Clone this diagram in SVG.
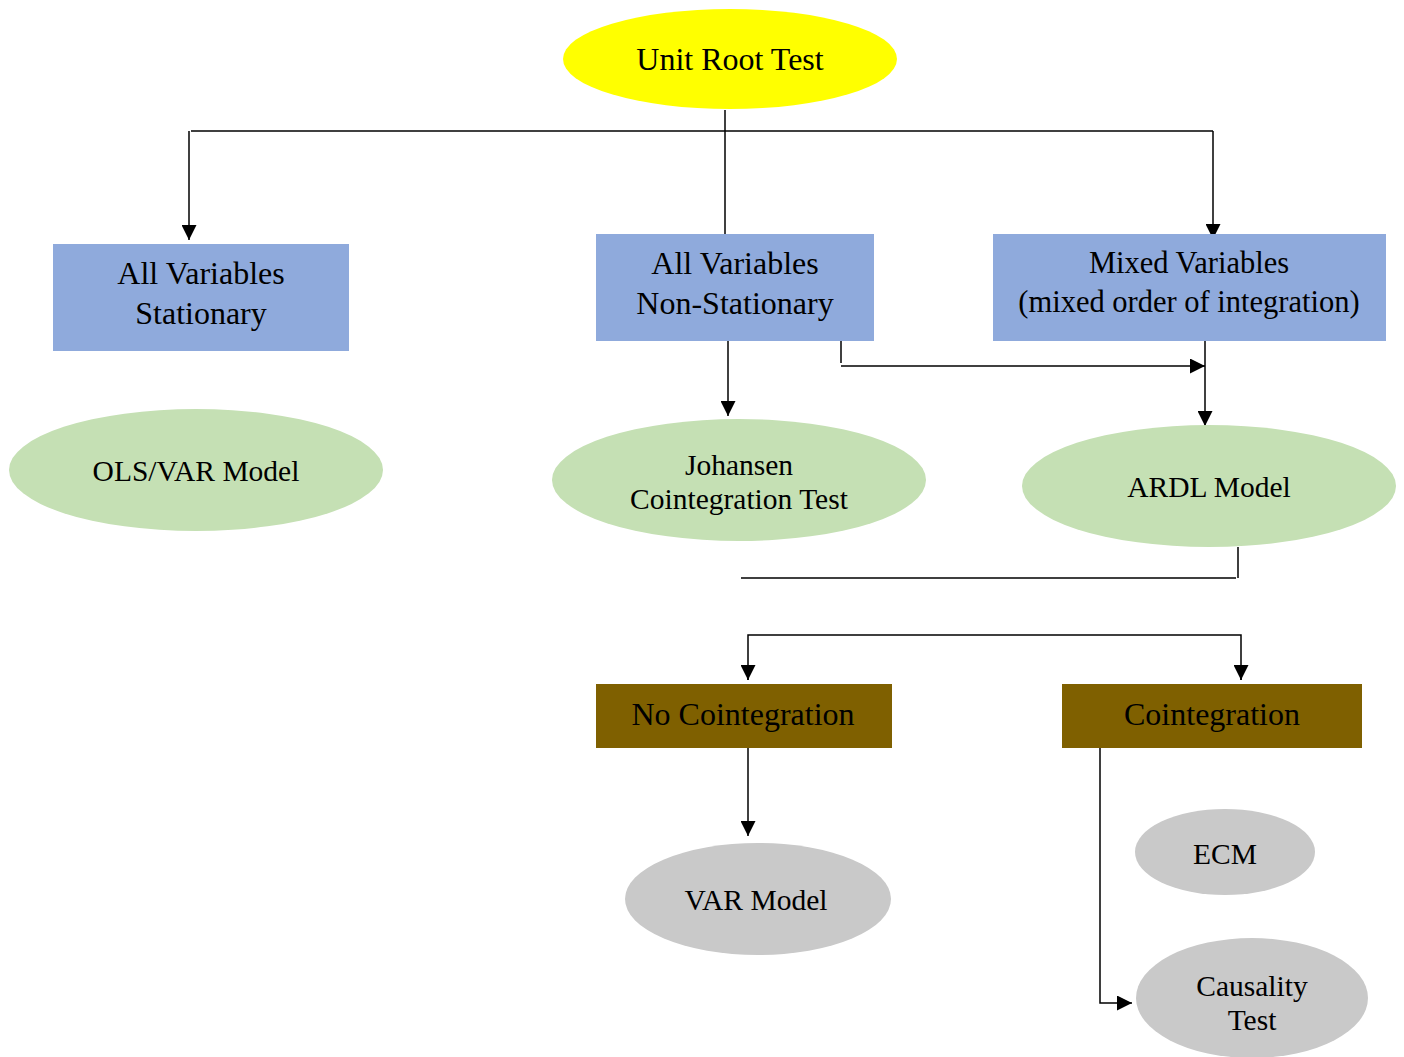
<svg xmlns="http://www.w3.org/2000/svg" width="1404" height="1057" viewBox="0 0 1404 1057">
<defs>
<marker id="ah" viewBox="0 0 10 10" refX="10" refY="5" markerWidth="15" markerHeight="15" markerUnits="userSpaceOnUse" orient="auto">
<path d="M0,0 L10,5 L0,10 z" fill="#000"/>
</marker>
<style>
text{font-family:"Liberation Serif","Times New Roman",serif;fill:#000;text-anchor:middle}
.blue{fill:#8FAADC}
.green{fill:#C5E0B4}
.brown{fill:#7F6000}
.grey{fill:#C9C9C9}
.c{fill:none;stroke:#000;stroke-width:1.5}
.bx{font-size:32px}
.el{font-size:29.5px}
</style>
</defs>
<rect width="1404" height="1057" fill="#fff"/>
<g id="connectors">
<path class="c" d="M725,110 V234"/>
<path class="c" d="M191,131 H1213"/>
<path class="c" d="M189,131 V240" marker-end="url(#ah)"/>
<path class="c" d="M1213,131 V239" marker-end="url(#ah)"/>
<path class="c" d="M728,341 V416" marker-end="url(#ah)"/>
<path class="c" d="M841,341 V363"/>
<path class="c" d="M841,366 H1205" marker-end="url(#ah)"/>
<path class="c" d="M1205,341 V426" marker-end="url(#ah)"/>
<path class="c" d="M1238,547 V578 M1236,578 H741"/>
<path class="c" d="M748,680 V635 H1241 V680"/>
<path class="c" d="M748,665 V680" marker-end="url(#ah)"/>
<path class="c" d="M1241,665 V680" marker-end="url(#ah)"/>
<path class="c" d="M748,748 V836" marker-end="url(#ah)"/>
<path class="c" d="M1100,748 V1003 H1132" marker-end="url(#ah)"/>
</g>
<g id="unit-root">
<ellipse cx="730" cy="59" rx="167" ry="50" fill="#FFFF00"/>
<text class="bx" x="730" y="70">Unit Root Test</text>
</g>
<g id="stationary">
<rect class="blue" x="53" y="244" width="296" height="107"/>
<text class="bx" x="201" y="284">All Variables</text>
<text class="bx" x="201" y="324">Stationary</text>
</g>
<g id="non-stationary">
<rect class="blue" x="596" y="234" width="278" height="107"/>
<text class="bx" x="735" y="274">All Variables</text>
<text class="bx" x="735" y="314">Non-Stationary</text>
</g>
<g id="mixed">
<rect class="blue" x="993" y="234" width="393" height="107"/>
<text x="1189" y="273" font-size="30.5">Mixed Variables</text>
<text x="1189" y="312" font-size="30.5">(mixed order of integration)</text>
</g>
<g id="ols-var">
<ellipse class="green" cx="196" cy="470" rx="187" ry="61"/>
<text class="el" x="196" y="481">OLS/VAR Model</text>
</g>
<g id="johansen">
<ellipse class="green" cx="739" cy="480" rx="187" ry="61"/>
<text class="el" x="739" y="475">Johansen</text>
<text class="el" x="739" y="509">Cointegration Test</text>
</g>
<g id="ardl">
<ellipse class="green" cx="1209" cy="486" rx="187" ry="61"/>
<text class="el" x="1209" y="497">ARDL Model</text>
</g>
<g id="no-cointegration">
<rect class="brown" x="596" y="684" width="296" height="64"/>
<text class="bx" x="743" y="725">No Cointegration</text>
</g>
<g id="cointegration">
<rect class="brown" x="1062" y="684" width="300" height="64"/>
<text class="bx" x="1212" y="725">Cointegration</text>
</g>
<g id="var-model">
<ellipse class="grey" cx="758" cy="899" rx="133" ry="56"/>
<text class="el" x="756" y="910">VAR Model</text>
</g>
<g id="ecm">
<ellipse class="grey" cx="1225" cy="852" rx="90" ry="43"/>
<text class="el" x="1225" y="864">ECM</text>
</g>
<g id="causality">
<ellipse class="grey" cx="1252" cy="998" rx="116" ry="60"/>
<text class="el" x="1252" y="996">Causality</text>
<text class="el" x="1252" y="1030">Test</text>
</g>
</svg>
